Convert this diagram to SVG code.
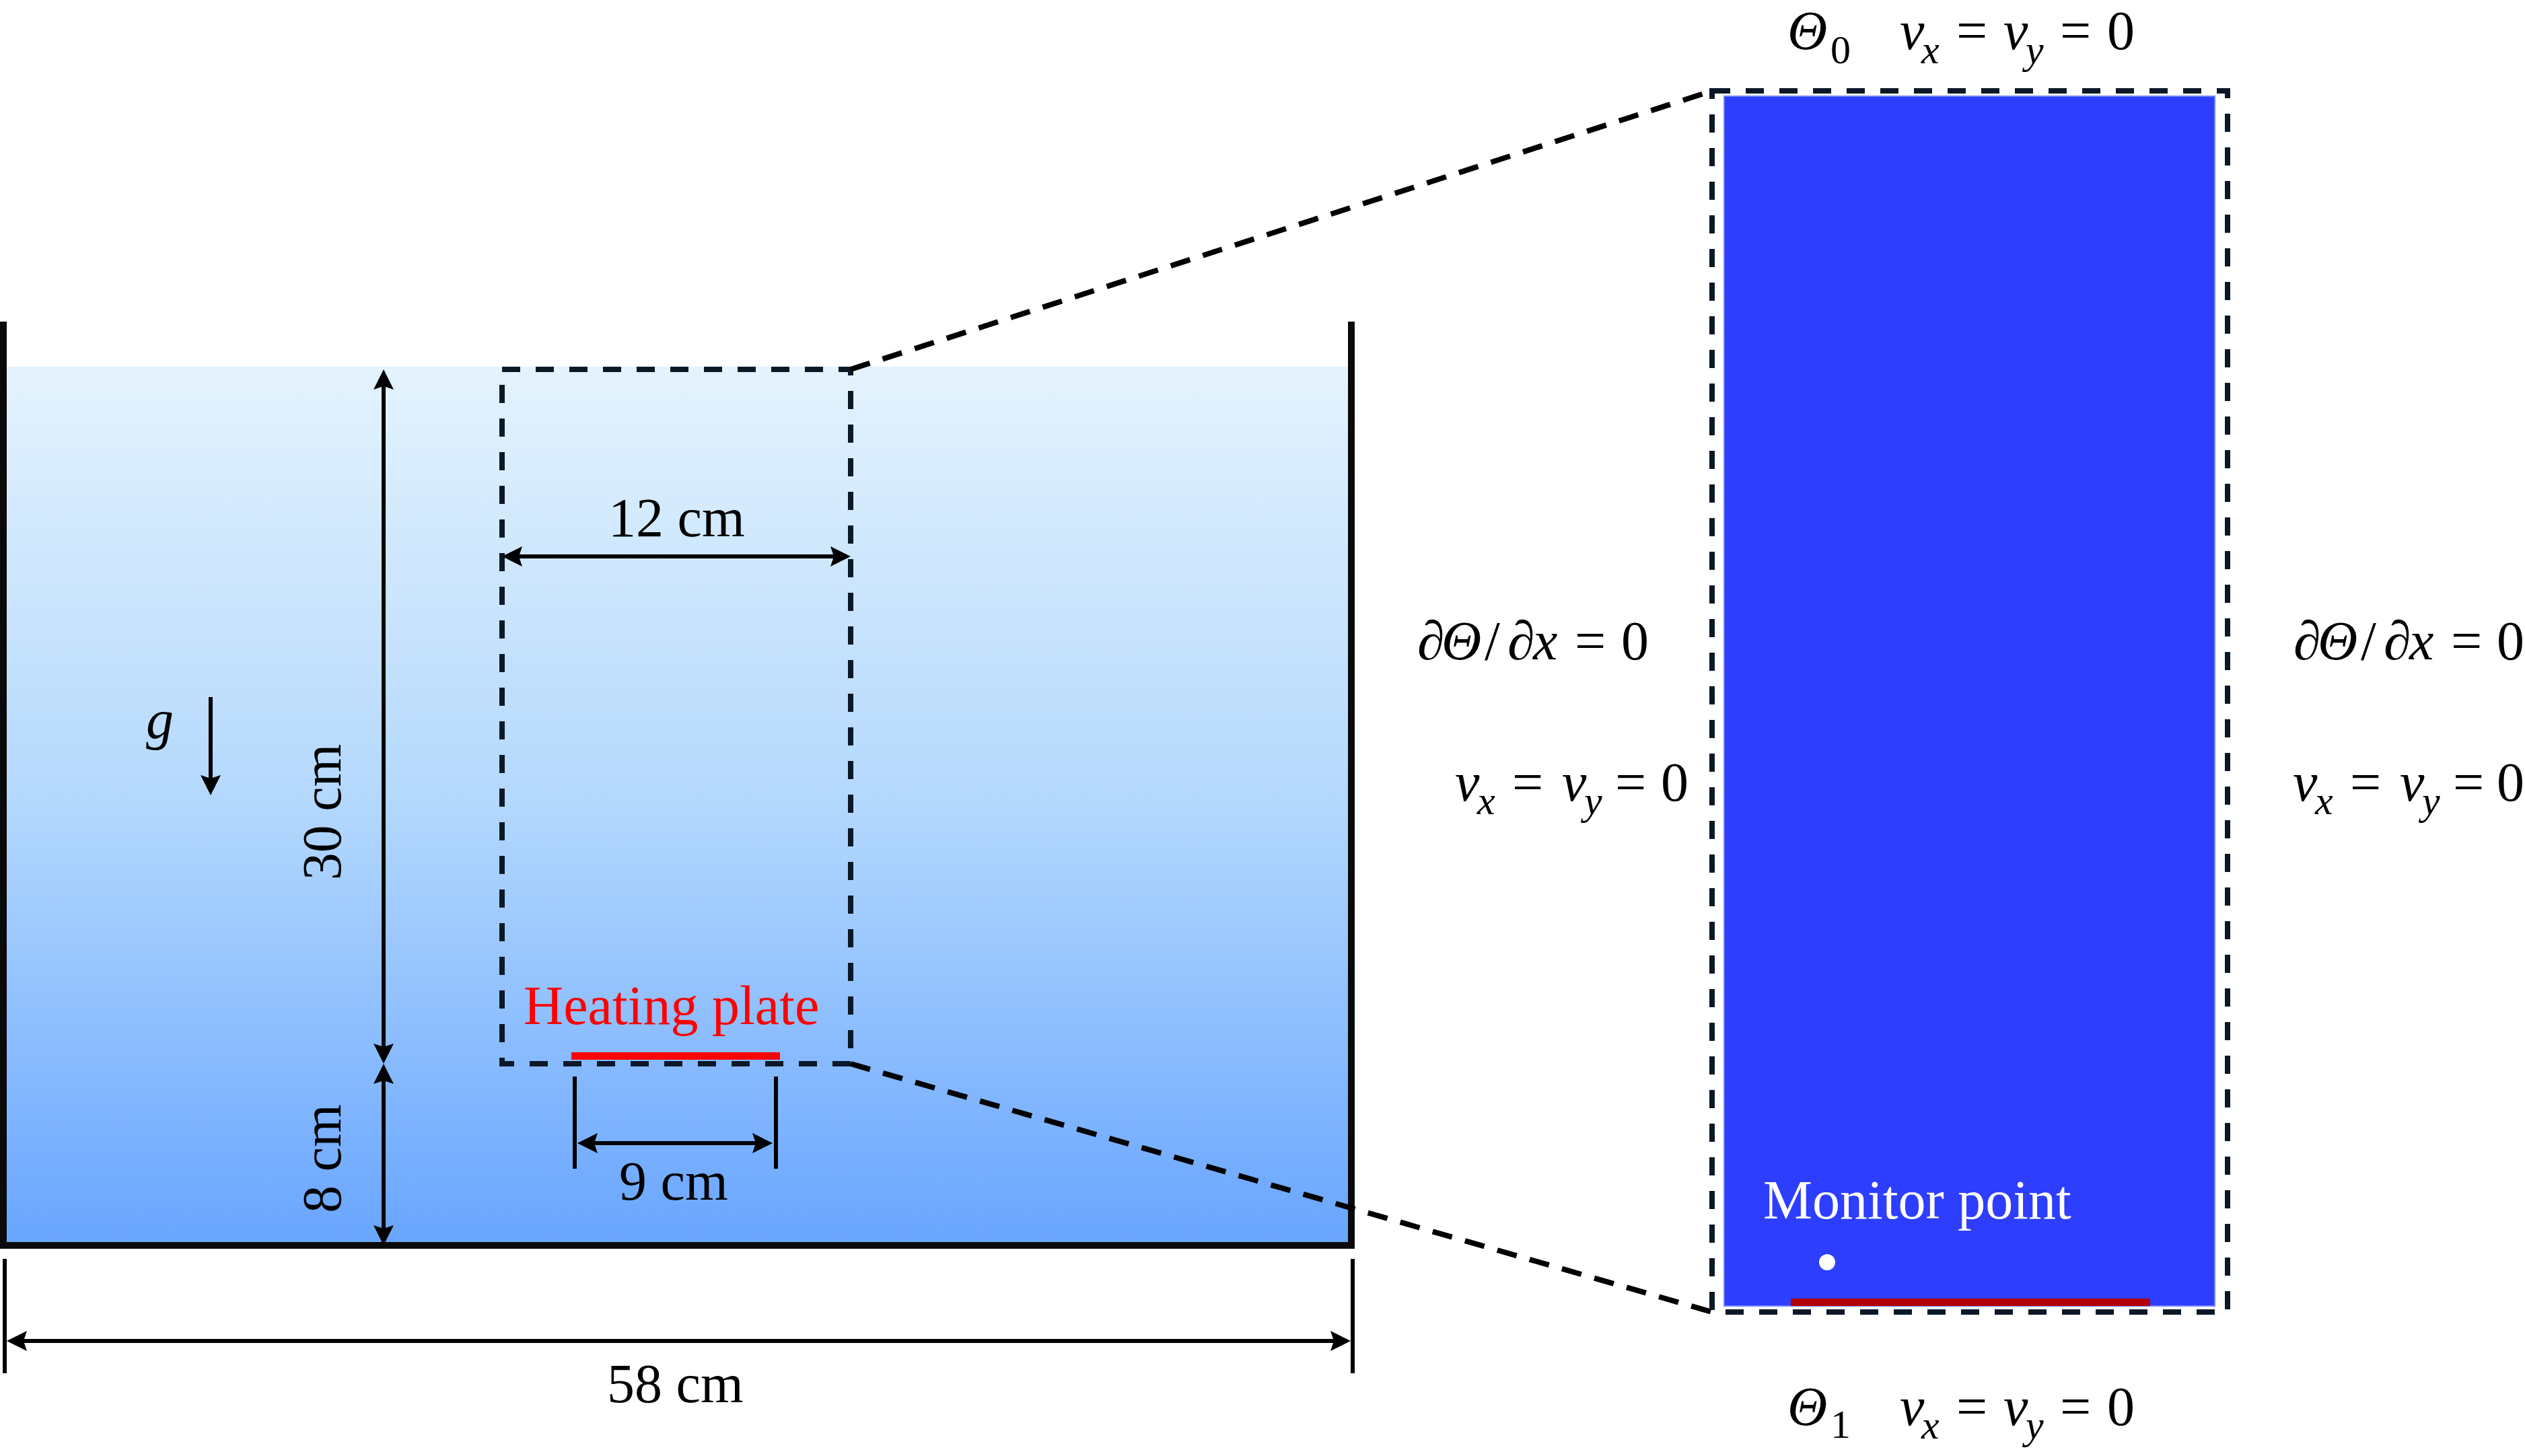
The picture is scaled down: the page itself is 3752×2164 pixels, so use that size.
<svg xmlns="http://www.w3.org/2000/svg" width="3752" height="2164" viewBox="0 0 3752 2164">
<style>
.t{font-family:"Liberation Serif","Times New Roman",serif;font-size:82px;fill:#000}
.i{font-style:italic}
.s{font-size:60px}
.dim{stroke:#000;stroke-width:6;fill:none}
.ext{stroke:#000;stroke-width:6}
.dash{fill:none;stroke:#0b1828;stroke-width:8;stroke-dasharray:27 23}
.conn{fill:none;stroke:#000;stroke-width:8;stroke-dasharray:30 20}
.wall{stroke:#0a0a0a;stroke-width:10;fill:none}
</style>
<defs>
<linearGradient id="water" x1="0" y1="0" x2="0" y2="1">
<stop offset="0" stop-color="#E4F3FD"/>
<stop offset="0.5" stop-color="#B3D8FD"/>
<stop offset="1" stop-color="#69A5FF"/>
</linearGradient>
<marker id="ah" viewBox="0 0 30 30" refX="15" refY="15" markerWidth="30" markerHeight="30" markerUnits="userSpaceOnUse" orient="auto-start-reverse">
<path d="M0,0 L30,15 L0,30 L5,15 z" fill="#000"/>
</marker>
</defs>
<rect width="3752" height="2164" fill="#fff"/>

<g id="tank">
<rect x="10" y="545" width="1993" height="1301" fill="url(#water)"/>
<path class="wall" d="M5,478 V1851 H2008 V478"/>
</g>

<g id="zoom-box-small">
<rect class="dash" x="746" y="549" width="518" height="1032"/>
</g>

<g id="heating-plate">
<rect x="849" y="1564" width="310" height="11" fill="#FF0000"/>
<text class="t" x="778" y="1522" style="fill:#FF0000">Heating plate</text>
</g>

<g id="dimensions">
<line class="dim" x1="761" y1="827" x2="1249" y2="827" marker-start="url(#ah)" marker-end="url(#ah)"/>
<text class="t" x="904" y="797">12 cm</text>
<line class="dim" x1="570" y1="564" x2="570" y2="1566" marker-start="url(#ah)" marker-end="url(#ah)"/>
<text class="t" x="506" y="1207" text-anchor="middle" transform="rotate(-90 506 1207)">30 cm</text>
<line class="dim" x1="570" y1="1596" x2="570" y2="1836" marker-start="url(#ah)" marker-end="url(#ah)"/>
<text class="t" x="506" y="1722" text-anchor="middle" transform="rotate(-90 506 1722)">8 cm</text>
<line class="ext" x1="854" y1="1600" x2="854" y2="1737"/>
<line class="ext" x1="1153" y1="1600" x2="1153" y2="1737"/>
<line class="dim" x1="873" y1="1699" x2="1133" y2="1699" marker-start="url(#ah)" marker-end="url(#ah)"/>
<text class="t" x="920" y="1783">9 cm</text>
<line class="ext" x1="7" y1="1871" x2="7" y2="2041"/>
<line class="ext" x1="2010" y1="1871" x2="2010" y2="2041"/>
<line class="dim" x1="25" y1="1993" x2="1992" y2="1993" marker-start="url(#ah)" marker-end="url(#ah)"/>
<text class="t" x="902" y="2084">58 cm</text>
</g>

<g id="gravity">
<line class="dim" x1="313" y1="1036" x2="313" y2="1167" marker-end="url(#ah)"/>
<text class="t i" x="217" y="1097">g</text>
</g>

<g id="connectors">
<line class="conn" x1="1264" y1="549" x2="2544" y2="135"/>
<line class="conn" x1="1264" y1="1581" x2="2544" y2="1950"/>
</g>

<g id="domain">
<rect x="2562" y="143" width="729" height="1798" fill="#2D3EFF" stroke="#7484FF" stroke-width="2"/>
<rect x="2661" y="1930" width="534" height="11" fill="#B40008"/>
<circle cx="2715" cy="1876" r="12" fill="#fff"/>
<text class="t" x="2620" y="1811" style="fill:#fff">Monitor point</text>
<rect class="dash" x="2544" y="135" width="766" height="1815"/>
</g>

<g id="bc-top">
<text class="t"><tspan class="i" x="2656" y="73">Θ</tspan><tspan class="s" x="2720" y="94">0</tspan><tspan class="i" x="2823" y="73">v</tspan><tspan class="i s" x="2855" y="94">x</tspan><tspan x="2907" y="73">=</tspan><tspan class="i" x="2977" y="73">v</tspan><tspan class="i s" x="3010" y="94">y</tspan><tspan x="3061" y="73">=</tspan><tspan x="3131" y="73">0</tspan></text>
</g>

<g id="bc-bottom">
<text class="t"><tspan class="i" x="2656" y="2118">Θ</tspan><tspan class="s" x="2720" y="2137">1</tspan><tspan class="i" x="2823" y="2118">v</tspan><tspan class="i s" x="2855" y="2138">x</tspan><tspan x="2907" y="2118">=</tspan><tspan class="i" x="2977" y="2118">v</tspan><tspan class="i s" x="3010" y="2138">y</tspan><tspan x="3061" y="2118">=</tspan><tspan x="3131" y="2118">0</tspan></text>
</g>

<g id="bc-left">
<text class="t"><tspan x="2106" y="980">∂</tspan><tspan class="i" x="2142" y="980">Θ</tspan><tspan x="2206" y="980">/</tspan><tspan x="2240" y="980">∂</tspan><tspan class="i" x="2278" y="980">x</tspan><tspan x="2340" y="980">=</tspan><tspan x="2409" y="980">0</tspan></text>
<text class="t"><tspan class="i" x="2162" y="1190">v</tspan><tspan class="i s" x="2195" y="1210">x</tspan><tspan x="2247" y="1190">=</tspan><tspan class="i" x="2321" y="1190">v</tspan><tspan class="i s" x="2354" y="1210">y</tspan><tspan x="2400" y="1190">=</tspan><tspan x="2468" y="1190">0</tspan></text>
</g>

<g id="bc-right">
<text class="t"><tspan x="3408" y="980">∂</tspan><tspan class="i" x="3444" y="980">Θ</tspan><tspan x="3508" y="980">/</tspan><tspan x="3542" y="980">∂</tspan><tspan class="i" x="3580" y="980">x</tspan><tspan x="3642" y="980">=</tspan><tspan x="3710" y="980">0</tspan></text>
<text class="t"><tspan class="i" x="3407" y="1190">v</tspan><tspan class="i s" x="3440" y="1210">x</tspan><tspan x="3492" y="1190">=</tspan><tspan class="i" x="3566" y="1190">v</tspan><tspan class="i s" x="3599" y="1210">y</tspan><tspan x="3645" y="1190">=</tspan><tspan x="3710" y="1190">0</tspan></text>
</g>
</svg>
